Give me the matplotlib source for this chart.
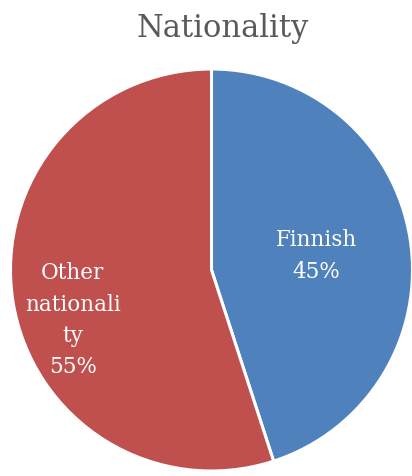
import matplotlib
matplotlib.use("Agg")
import matplotlib.pyplot as plt
import numpy as np

categories = ["Finnish", "Other\nnationali\nty"]
values = [45, 55]
colors = ["#4F81BD", "#C0504D"]
title = "Nationality"

W, H = 412, 477
fig = plt.figure(figsize=(W / 100, H / 100), dpi=100)
ax = fig.add_axes([0, 0, 1, 1])
R = 201.0
cx, cy = 211.5, 271.0
ax.axis("off")

wedges, _ = ax.pie(values, colors=colors, startangle=90, counterclock=False,
                   radius=1, center=(0, 0),
                   wedgeprops=dict(edgecolor="white", linewidth=2.2))
ax.set_xlim((0 - cx) / R, (W - cx) / R)
ax.set_ylim((cy - H) / R, cy / R)
ax.set_aspect("auto")

font = "DejaVu Serif"
label_pos = [(0.52, 0.075), (-0.69, -0.245)]
for (x, y), cat, v in zip(label_pos, categories, values):
    ax.text(x, y, f"{cat}\n{v}%", ha="center", va="center", color="white",
            fontsize=15.5, family=font, linespacing=1.55)

fig.text(223 / W, 1 - 28 / H, title, ha="center", va="center", fontsize=22,
         color="#595959", family=font)
fig.savefig("out.png", dpi=100)
